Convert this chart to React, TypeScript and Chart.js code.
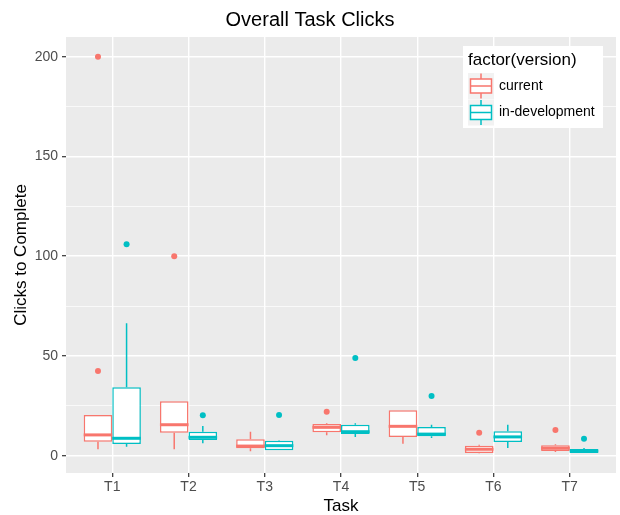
import React, { useEffect, useRef } from 'react';
import { Chart, registerables } from 'chart.js';

Chart.register(...registerables);

const tasks = ['T1', 'T2', 'T3', 'T4', 'T5', 'T6', 'T7'];
const versions = ['current', 'in-development'];
const colors = ['#F8766D', '#00BFC4'];

// current
const curLower = [3.2, 3.2, 2.2, 10.2, 6.0, 1.2, 1.8];
const curQ1 = [7.0, 11.5, 3.7, 11.7, 9.4, 1.3, 2.3];
const curMedian = [10.4, 15.5, 4.8, 14.2, 14.7, 3.2, 3.7];
const curQ3 = [20.4, 27.3, 8.2, 15.9, 22.7, 5.0, 5.2];
const curUpper = [20.4, 27.3, 12.0, 16.3, 22.7, 5.5, 5.7];
const curOutTask = [1, 1, 2, 4, 6, 7];
const curOutValue = [42.5, 200, 100, 22.0, 11.5, 12.9];

// in-development
const devLower = [4.5, 6.2, 2.7, 9.4, 8.9, 3.8, 1.3];
const devQ1 = [5.9, 7.9, 2.7, 10.9, 9.7, 6.9, 1.3];
const devMedian = [8.7, 9.2, 5.0, 12.0, 10.8, 9.4, 2.3];
const devQ3 = [34.3, 12.0, 7.5, 15.5, 14.4, 12.2, 3.3];
const devUpper = [66.4, 14.9, 7.7, 16.2, 15.5, 15.5, 3.8];
const devOutTask = [1, 2, 3, 4, 5, 7];
const devOutValue = [106, 20.3, 20.4, 48.9, 29.9, 8.5];

const yMajor = [0, 50, 100, 150, 200];
const yMinor = [25, 75, 125, 175];

const FONT = '"Liberation Sans", Arial, sans-serif';
const DODGE = 0.75 / 4;

const stats = [
  { lower: curLower, q1: curQ1, median: curMedian, q3: curQ3, upper: curUpper },
  { lower: devLower, q1: devQ1, median: devMedian, q3: devQ3, upper: devUpper },
];

const boxPlugin = {
  id: 'boxExtras',
  beforeDraw(chart: any) {
    const { ctx, chartArea: a } = chart;
    ctx.save();
    ctx.fillStyle = '#EBEBEB';
    ctx.fillRect(a.left, a.top, a.right - a.left, a.bottom - a.top);
    ctx.restore();
  },
  beforeDatasetsDraw(chart: any) {
    const { ctx } = chart;
    const yScale = chart.scales.y;
    ctx.save();
    for (let d = 0; d < 2; d++) {
      const meta = chart.getDatasetMeta(d);
      const s = stats[d];
      ctx.strokeStyle = colors[d];
      ctx.lineWidth = 1.5;
      meta.data.forEach((el: any, i: number) => {
        const x = el.x;
        ctx.beginPath();
        ctx.moveTo(x, yScale.getPixelForValue(s.q3[i]));
        ctx.lineTo(x, yScale.getPixelForValue(s.upper[i]));
        ctx.moveTo(x, yScale.getPixelForValue(s.q1[i]));
        ctx.lineTo(x, yScale.getPixelForValue(s.lower[i]));
        ctx.stroke();
      });
    }
    ctx.restore();
  },
  afterDatasetsDraw(chart: any) {
    const { ctx } = chart;
    const yScale = chart.scales.y;
    ctx.save();
    for (let d = 0; d < 2; d++) {
      const meta = chart.getDatasetMeta(d);
      const s = stats[d];
      ctx.strokeStyle = colors[d];
      ctx.lineWidth = 3;
      meta.data.forEach((el: any, i: number) => {
        const y = yScale.getPixelForValue(s.median[i]);
        ctx.beginPath();
        ctx.moveTo(el.x - el.width / 2, y);
        ctx.lineTo(el.x + el.width / 2, y);
        ctx.stroke();
      });
    }
    ctx.restore();
  },
  afterDraw(chart: any) {
    const { ctx, chartArea: a } = chart;
    const left = a.right - 153;
    const top = a.top + 9;
    ctx.save();
    ctx.fillStyle = '#FFFFFF';
    ctx.fillRect(left, top, 140, 82);
    ctx.fillStyle = '#000000';
    ctx.font = `17px ${FONT}`;
    ctx.textBaseline = 'middle';
    ctx.textAlign = 'left';
    ctx.fillText('factor(version)', left + 5, top + 14);
    for (let k = 0; k < 2; k++) {
      const kx = left + 5;
      const ky = top + 27 + k * 26.5;
      ctx.fillStyle = '#F2F2F2';
      ctx.fillRect(kx, ky, 26, 26);
      ctx.strokeStyle = colors[k];
      ctx.lineWidth = 1.5;
      const bx = kx + 2.5, bw = 21, by = ky + 6, bh = 14;
      ctx.fillStyle = '#FFFFFF';
      ctx.fillRect(bx, by, bw, bh);
      ctx.strokeRect(bx, by, bw, bh);
      ctx.beginPath();
      ctx.moveTo(kx + 13, ky + 0.5);
      ctx.lineTo(kx + 13, by);
      ctx.moveTo(kx + 13, by + bh);
      ctx.lineTo(kx + 13, ky + 25.5);
      ctx.moveTo(bx, ky + 13);
      ctx.lineTo(bx + bw, ky + 13);
      ctx.stroke();
      ctx.fillStyle = '#000000';
      ctx.font = `14px ${FONT}`;
      ctx.fillText(versions[k], kx + 31, ky + 13);
    }
    ctx.restore();
  },
};

export default function App() {
  const ref = useRef<HTMLCanvasElement | null>(null);

  useEffect(() => {
    document.body.style.margin = '0';
    const canvas = ref.current;
    if (!canvas) return;

    const chart = new Chart(canvas, {
      type: 'bar',
      data: {
        datasets: [
          {
            type: 'bar',
            label: versions[0],
            data: tasks.map((_, i) => ({ x: i + 1, y: [curQ1[i], curQ3[i]] })) as any,
            backgroundColor: '#FFFFFF',
            borderColor: colors[0],
            borderWidth: 1.5,
            borderSkipped: false,
            categoryPercentage: 0.75,
            barPercentage: 1,
          },
          {
            type: 'bar',
            label: versions[1],
            data: tasks.map((_, i) => ({ x: i + 1, y: [devQ1[i], devQ3[i]] })) as any,
            backgroundColor: '#FFFFFF',
            borderColor: colors[1],
            borderWidth: 1.5,
            borderSkipped: false,
            categoryPercentage: 0.75,
            barPercentage: 1,
          },
          {
            type: 'scatter',
            label: versions[0] + ' outliers',
            data: curOutTask.map((t, i) => ({ x: t - DODGE, y: curOutValue[i] })),
            backgroundColor: colors[0],
            pointBackgroundColor: colors[0],
            pointBorderWidth: 0,
            pointRadius: 3,
          } as any,
          {
            type: 'scatter',
            label: versions[1] + ' outliers',
            data: devOutTask.map((t, i) => ({ x: t + DODGE, y: devOutValue[i] })),
            backgroundColor: colors[1],
            pointBackgroundColor: colors[1],
            pointBorderWidth: 0,
            pointRadius: 3,
          } as any,
        ],
      },
      options: {
        responsive: false,
        animation: false,
        devicePixelRatio: 1,
        layout: { padding: 0 },
        plugins: {
          legend: { display: false },
          tooltip: { enabled: false },
          title: {
            display: true,
            text: 'Overall Task Clicks',
            color: '#000000',
            font: { family: FONT, size: 20, weight: 'normal', lineHeight: 1.2 },
            padding: { top: 8, bottom: 5 },
          },
        },
        scales: {
          x: {
            type: 'linear',
            min: 0.393,
            max: 7.607,
            offset: false,
            border: { display: false },
            grid: {
              offset: false,
              color: '#FFFFFF',
              lineWidth: 1.4,
              drawTicks: true,
              tickLength: 4,
              tickColor: '#333333',
              tickWidth: 1.2,
            },
            afterBuildTicks: (axis: any) => {
              axis.ticks = tasks.map((_, i) => ({ value: i + 1 }));
            },
            afterFit: (axis: any) => {
              axis.height = 42;
            },
            ticks: {
              autoSkip: false,
              maxRotation: 0,
              padding: 2,
              color: '#4D4D4D',
              font: { family: FONT, size: 14 },
              callback: (v: any) => tasks[Math.round(Number(v)) - 1] ?? '',
            },
            title: {
              display: true,
              text: 'Task',
              color: '#000000',
              font: { family: FONT, size: 17, lineHeight: 1 },
              padding: { top: 0, bottom: 0 },
            },
          },
          y: {
            type: 'linear',
            min: -8.7,
            max: 209.9,
            border: { display: false },
            grid: {
              color: '#FFFFFF',
              lineWidth: (c: any) => (c.tick && yMajor.includes(c.tick.value) ? 1.4 : 0.7),
              drawTicks: true,
              tickLength: 4,
              tickColor: (c: any) =>
                c.tick && yMajor.includes(c.tick.value) ? '#333333' : 'rgba(0,0,0,0)',
              tickWidth: 1.2,
            },
            afterBuildTicks: (axis: any) => {
              axis.ticks = [...yMajor, ...yMinor]
                .sort((p, q) => p - q)
                .map((v) => ({ value: v }));
            },
            afterFit: (axis: any) => {
              axis.width = 66;
            },
            ticks: {
              autoSkip: false,
              padding: 4,
              color: '#4D4D4D',
              font: { family: FONT, size: 14 },
              callback: (v: any) => (yMajor.includes(Number(v)) ? String(v) : ''),
            },
            title: {
              display: true,
              text: 'Clicks to Complete',
              color: '#000000',
              font: { family: FONT, size: 17, lineHeight: 1 },
              padding: { top: 13, bottom: 0 },
            },
          },
        },
      } as any,
      plugins: [boxPlugin],
    });

    return () => chart.destroy();
  }, []);

  return (
    <div style={{ width: 620, height: 515 }}>
      <canvas ref={ref} width={620} height={515} style={{ display: 'block' }} />
    </div>
  );
}
